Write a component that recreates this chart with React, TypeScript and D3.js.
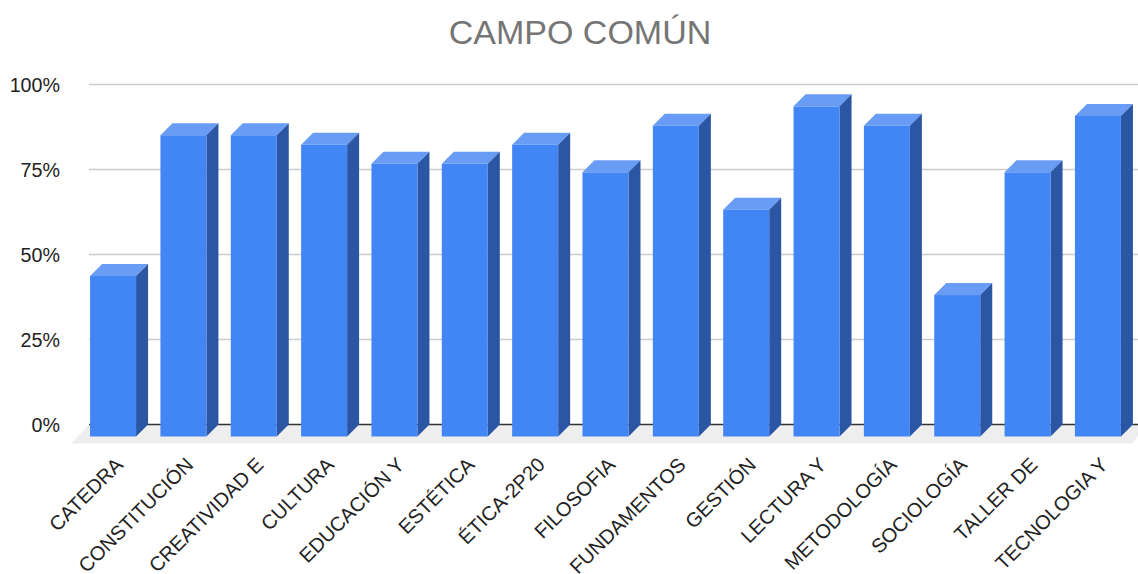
import React from "react";
import * as d3 from "d3";

const categories = ["CATEDRA","CONSTITUCIÓN","CREATIVIDAD E","CULTURA","EDUCACIÓN Y","ESTÉTICA","ÉTICA-2P20","FILOSOFIA","FUNDAMENTOS","GESTIÓN","LECTURA Y","METODOLOGÍA","SOCIOLOGÍA","TALLER DE","TECNOLOGIA Y"];
const values = [47.2,88.6,88.6,85.8,80.2,80.2,85.8,77.7,91.4,66.7,97.1,91.4,41.6,77.7,94.3];
const yTicks = [0,25,50,75,100];
const title = "CAMPO COMÚN";

const W = 1138, H = 574;
const DEPTH = 12;
const FONT = "'Liberation Sans', Arial, sans-serif";

export default function App() {
  const x = d3.scaleBand<string>().domain(categories).range([77.9, 1133.1]).paddingInner(0.346).paddingOuter(0.173);
  const y = d3.scaleLinear().domain([0, 100]).range([424.5, 84.5]);
  const bw = x.bandwidth();
  const floorY = y(0);
  return (
    <svg width={W} height={H} style={{ position: "absolute", left: 0, top: 0, background: "#fff" }} fontFamily={FONT}>
      <text x={580} y={44} textAnchor="middle" fontSize={34} fill="#757575">{title}</text>
      <polygon points={`${89},${floorY} ${W},${floorY} ${W},${floorY+11} ${1133},${floorY+19} ${71},${floorY+19}`} fill="#eeeeee" />
      {yTicks.filter(t => t > 0).map(t => (
        <line key={t} x1={89} x2={W} y1={y(t)} y2={y(t)} stroke="#cccccc" strokeWidth={1.5} />
      ))}
      <line x1={89} x2={W} y1={floorY} y2={floorY} stroke="#333333" strokeWidth={1.3} />
      {yTicks.map(t => (
        <text key={t} x={60} y={y(t) + 7} textAnchor="end" fontSize={19.7} fill="#222222">{t}%</text>
      ))}
      {categories.map((c, i) => {
        const x0 = x(c)!;
        const x1 = x0 + bw;
        const top = y(values[i]) + DEPTH;
        const bot = floorY + DEPTH;
        return (
          <g key={c}>
            <polygon points={`${x0},${top} ${x0+DEPTH},${top-DEPTH} ${x1+DEPTH},${top-DEPTH} ${x1},${top}`} fill="#689cf5" />
            <polygon points={`${x1},${top} ${x1+DEPTH},${top-DEPTH} ${x1+DEPTH},${bot-DEPTH} ${x1},${bot}`} fill="#2a56a3" />
            <rect x={x0} y={top} width={bw} height={bot - top} fill="#4285f4" />
          </g>
        );
      })}
      {categories.map(c => {
        const cx = x(c)! + bw / 2 + 11;
        return (
          <text key={c} transform={`translate(${cx},${466}) rotate(-45)`} textAnchor="end" fontSize={20} fill="#222222">{c}</text>
        );
      })}
    </svg>
  );
}
